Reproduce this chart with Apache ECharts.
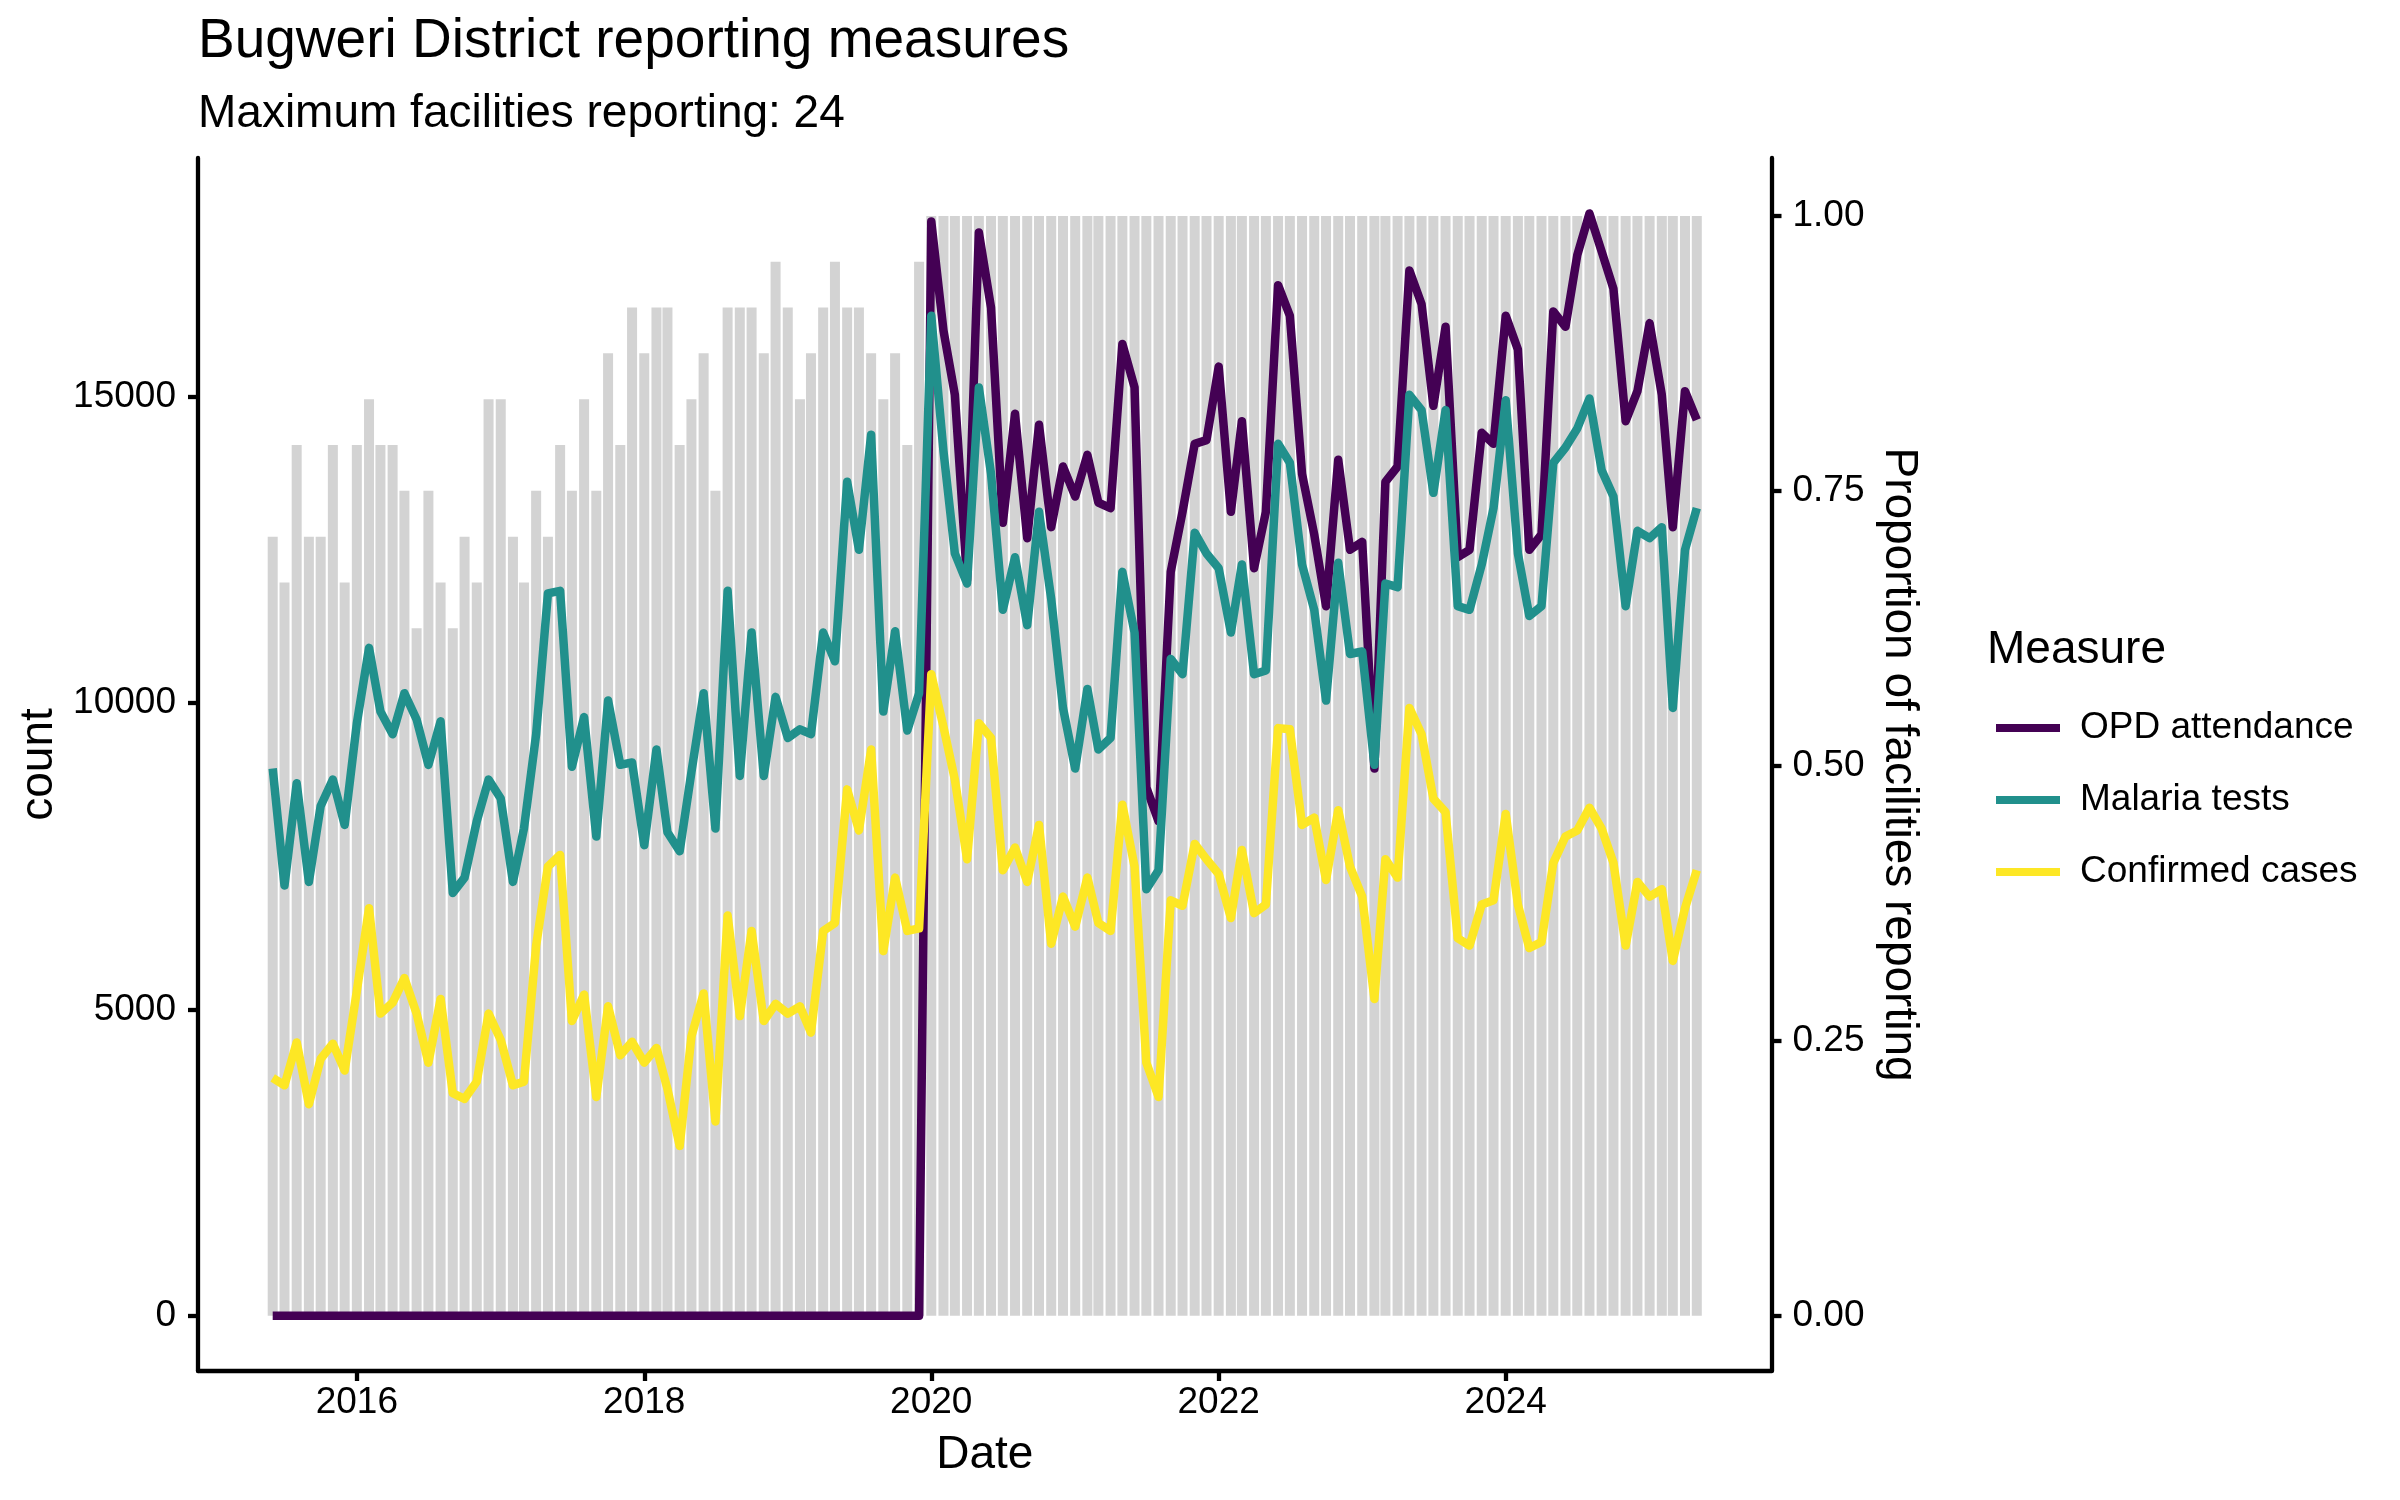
<!DOCTYPE html>
<html><head><meta charset="utf-8">
<script src="https://cdn.jsdelivr.net/npm/echarts@6/dist/echarts.min.js"></script>
<style>html,body{margin:0;padding:0;background:#fff}#chart{width:2400px;height:1500px}</style>
</head><body><div id="chart"></div>
<script>
// ---- data ----
const firstYear = 2015, firstMonth = 6, nMonths = 120;   // June 2015 .. May 2025
const months = [];
for (let k = 0; k < nMonths; k++) {
  const m = firstMonth - 1 + k;
  const y = firstYear + Math.floor(m / 12);
  const mm = (m % 12) + 1;
  months.push(y + '-' + (mm < 10 ? '0' + mm : mm) + '-01');
}
const xTickYears = [2016, 2018, 2020, 2022, 2024];
const countTicks = [0, 5000, 10000, 15000];
const propTicks = [0, 0.25, 0.5, 0.75, 1];
const maxFacilities = 24;

const facilities = [
  17,16,19,17,17,19,16,19,20,19,19,18,15,18,16,15,17,16,20,20,17,16,
  18,17,19,18,20,18,21,19,22,21,22,22,19,20,21,18,22,22,22,21,23,22,20,
  21,22,23,22,22,21,20,21,19,23,
  24,24,24,24,24,24,24,24,24,24,24,24,24,
  24,24,24,24,24,24,24,24,24,24,24,24,24,
  24,24,24,24,24,24,24,24,24,24,24,24,24,
  24,24,24,24,24,24,24,24,24,24,24,24,24,
  24,24,24,24,24,24,24,24,24,24,24,24,24
];
const opdAttendance = [
  0,0,0,0,0,0,0,0,0,0,0,
  0,0,0,0,0,0,0,0,0,0,0,
  0,0,0,0,0,0,0,0,0,0,0,
  0,0,0,0,0,0,0,0,0,0,0,
  0,0,0,0,0,0,0,0,0,0,0,
  17860,16080,15030,12010,17680,16450,12940,14720,12690,14540,12870,13860,
  13370,14050,13270,13180,15860,15150,8620,8070,12140,13120,14230,14290,15490,13120,14600,12200,13120,16820,16320,13740,12750,11580,13970,
  12500,12630,8930,13610,13860,17060,16510,14850,16140,12380,12500,14410,14230,16320,15770,12500,12750,16390,16140,17310,17990,17370,
  16760,14600,15090,16200,15030,12870,15090,14620
];
const malariaTests = [
  8930,7020,8690,7080,8320,8750,8010,9670,10900,9860,9490,10160,9730,8990,9700,6900,7150,8070,8750,8440,7080,7950,
  9490,11790,11830,8960,9770,7820,10040,8990,9030,7680,9240,7890,7580,8870,10160,7950,11830,8810,11150,8810,10100,9430,9570,
  9490,11150,10680,13610,12500,14380,9860,11170,9550,10160,16320,14110,12440,11950,15150,13740,11520,12380,11270,13120,11700,9920,
  8930,10230,9240,9430,12140,11150,6960,7270,10720,10470,12780,12440,12200,11150,12260,10470,10530,14230,13920,12260,11520,10040,12290,
  10800,10840,8990,11950,11890,15030,14780,13430,14780,11580,11520,12260,13180,14940,12440,11420,11580,13920,14170,14480,14970,13800,
  13370,11580,12810,12690,12870,9920,12500,13180
];
const confirmedCases = [
  3880,3760,4460,3450,4190,4440,4000,5300,6650,4930,5110,5510,4930,4130,5170,3630,3540,3820,4930,4500,3760,3820,
  6040,7330,7520,4810,5240,3570,5050,4250,4470,4130,4370,3700,2770,4560,5260,3170,6530,4890,6280,4810,5090,4930,5050,
  4620,6280,6410,8590,7920,9240,5950,7150,6280,6320,10470,9610,8750,7450,9670,9430,7270,7640,7080,8010,6070,6840,
  6350,7150,6410,6280,8340,7330,4130,3570,6780,6690,7700,7450,7210,6490,7600,6570,6710,9590,9570,8010,8130,7110,8250,
  7330,6840,5170,7450,7150,9920,9490,8440,8220,6160,6040,6710,6780,8190,6710,6000,6100,7390,7820,7920,8290,7950,
  7390,6040,7080,6840,6960,5790,6650,7270
];
const seriesNames = ['OPD attendance', 'Malaria tests', 'Confirmed cases'];
const seriesColors = ['#440154', '#21908C', '#FDE725'];

// ---- chart ----
const FONT = '"Liberation Sans", Arial, Helvetica, sans-serif';
const COUNT_MIN = -903, COUNT_MAX = 18895, SEC_SCALE = 17950;
const toTime = (s) => { const p = s.split('-'); return new Date(+p[0], +p[1] - 1, +p[2]).getTime(); };
const monthTimes = months.map(toTime);
const xTicks = xTickYears.map(y => new Date(y, 0, 1).getTime());
const pair = (arr) => monthTimes.map((t, i) => [t, arr[i]]);

const chart = echarts.init(document.getElementById('chart'), null, {renderer: 'canvas', width: 2400, height: 1500});
const axisLineStyle = {color: '#000', width: 4.3};
const option = {
  animation: false,
  backgroundColor: '#fff',
  textStyle: {fontFamily: FONT},
  title: [
    {text: 'Bugweri District reporting measures', left: 198, top: 14, padding: 0,
     textStyle: {fontSize: 55, fontWeight: 'normal', color: '#000', fontFamily: FONT}},
    {text: 'Maximum facilities reporting: 24', left: 198, top: 91, padding: 0,
     textStyle: {fontSize: 46, fontWeight: 'normal', color: '#000', fontFamily: FONT}},
    {text: 'Measure', left: 1987, top: 627, padding: 0,
     textStyle: {fontSize: 46, fontWeight: 'normal', color: '#000', fontFamily: FONT}}
  ],
  legend: {
    orient: 'vertical', left: 1996, top: 692, padding: 0, itemGap: 0,
    itemWidth: 64, itemHeight: 8, icon: 'rect',
    textStyle: {fontSize: 37, color: '#000', lineHeight: 72, padding: [0, 0, 0, 15], fontFamily: FONT},
    data: seriesNames
  },
  grid: {left: 198, top: 158, width: 1573.5, height: 1213, containLabel: false, outerBoundsMode: 'none'},
  xAxis: {
    type: 'value',
    min: new Date(2014, 10, 23).getTime(),
    max: new Date(2025, 10, 7).getTime(),
    axisLine: {onZero: false, lineStyle: axisLineStyle},
    axisTick: {customValues: xTicks, length: 10, lineStyle: axisLineStyle},
    axisLabel: {customValues: xTicks, formatter: v => String(new Date(v).getFullYear()),
                fontSize: 37, color: '#000', margin: 13, fontFamily: FONT},
    splitLine: {show: false},
    name: 'Date', nameLocation: 'middle', nameGap: 61,
    nameTextStyle: {fontSize: 46, color: '#000', fontFamily: FONT}
  },
  yAxis: [
    {
      type: 'value', min: COUNT_MIN, max: COUNT_MAX, position: 'left',
      axisLine: {show: true, lineStyle: axisLineStyle},
      axisTick: {show: true, customValues: countTicks, length: 10, lineStyle: axisLineStyle},
      axisLabel: {customValues: countTicks, formatter: v => String(v), fontSize: 37, color: '#000', margin: 22, fontFamily: FONT},
      splitLine: {show: false},
      name: 'count', nameLocation: 'middle', nameGap: 132, nameRotate: 90,
      nameTextStyle: {fontSize: 46, color: '#000', fontFamily: FONT}
    },
    {
      type: 'value', min: COUNT_MIN / SEC_SCALE, max: COUNT_MAX / SEC_SCALE, position: 'right',
      axisLine: {show: true, lineStyle: axisLineStyle},
      axisTick: {show: true, customValues: propTicks, length: 10, lineStyle: axisLineStyle},
      axisLabel: {customValues: propTicks, formatter: v => v.toFixed(2), fontSize: 37, color: '#000', margin: 21, fontFamily: FONT},
      splitLine: {show: false},
      name: 'Proportion of facilities reporting', nameLocation: 'middle', nameGap: 104, nameRotate: -90,
      nameTextStyle: {fontSize: 46, color: '#000', fontFamily: FONT}
    }
  ],
  series: [
    {
      type: 'bar', name: 'Proportion reporting', yAxisIndex: 1, barWidth: 10, silent: true,
      itemStyle: {color: '#D3D3D3'},
      data: monthTimes.map((t, i) => [t, facilities[i] / maxFacilities])
    }
  ].concat([opdAttendance, malariaTests, confirmedCases].map((arr, k) => ({
    type: 'line', name: seriesNames[k], yAxisIndex: 0, showSymbol: false, symbol: 'none',
    color: seriesColors[k],
    lineStyle: {color: seriesColors[k], width: 8.5, join: 'round', cap: 'butt'},
    data: pair(arr)
  })))
};
chart.setOption(option);
</script></body></html>
